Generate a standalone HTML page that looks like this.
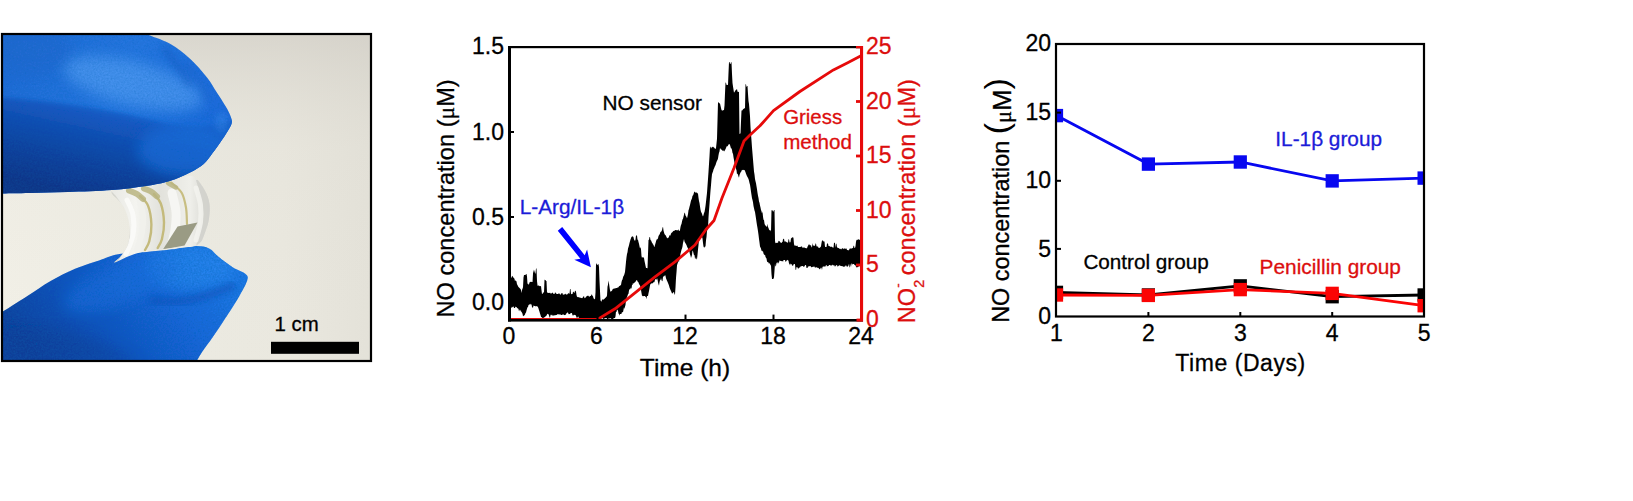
<!DOCTYPE html>
<html><head><meta charset="utf-8"><title>NO sensor figure</title>
<style>
html,body{margin:0;padding:0;background:#fff;}
body{width:1633px;height:501px;overflow:hidden;position:relative;}
svg{position:absolute;left:0;top:0;display:block;}
svg text{font-family:"Liberation Sans", Arial, sans-serif;stroke-width:0.3px;}
svg text[fill="#000"], svg g[fill="#000"] text{stroke:#000;}
svg text[fill="#dc0e0e"], svg g[fill="#dc0e0e"] text{stroke:#dc0e0e;}
svg text[fill="#1c1cd8"], svg g[fill="#1c1cd8"] text{stroke:#1c1cd8;}
</style></head><body>
<svg width="1633" height="501" viewBox="0 0 1633 501">
<rect width="1633" height="501" fill="#fff"/>
<defs>
<clipPath id="pclip"><rect x="2" y="34" width="369" height="327"/></clipPath>
<filter id="pblur" x="-5%" y="-5%" width="110%" height="110%"><feGaussianBlur stdDeviation="0.6"/></filter>
<filter id="sblur" x="-20%" y="-20%" width="140%" height="140%"><feGaussianBlur stdDeviation="7"/></filter>
<filter id="mblur" x="-20%" y="-20%" width="140%" height="140%"><feGaussianBlur stdDeviation="3"/></filter>
<filter id="grain" x="0" y="0" width="100%" height="100%">
<feTurbulence type="fractalNoise" baseFrequency="0.55" numOctaves="2" seed="4" result="n"/>
<feColorMatrix in="n" type="matrix" values="0 0 0 0 0  0 0 0 0 0.12  0 0 0 0 0.45  0.9 0.9 0 0 -0.62"/>
<feComposite in2="SourceGraphic" operator="in"/>
</filter>
<linearGradient id="bgG" x1="0" y1="0" x2="1" y2="0">
<stop offset="0" stop-color="#f2f0e7"/><stop offset="0.45" stop-color="#ecebe2"/><stop offset="0.75" stop-color="#eae8df"/><stop offset="1" stop-color="#e3e1d8"/>
</linearGradient>
<linearGradient id="bgV" x1="0" y1="0" x2="0" y2="1">
<stop offset="0" stop-color="#c8c4bc" stop-opacity="0.55"/><stop offset="0.35" stop-color="#d8d5cc" stop-opacity="0.15"/><stop offset="1" stop-color="#e8e6dd" stop-opacity="0"/>
</linearGradient>
<linearGradient id="upG" gradientUnits="userSpaceOnUse" x1="0" y1="35" x2="230" y2="150">
<stop offset="0" stop-color="#1f6ad4"/><stop offset="0.5" stop-color="#2676e0"/><stop offset="1" stop-color="#1c68da"/>
</linearGradient>
<linearGradient id="upD" gradientUnits="userSpaceOnUse" x1="100" y1="105" x2="80" y2="195">
<stop offset="0" stop-color="#185fcc"/><stop offset="0.3" stop-color="#114fb4"/><stop offset="0.7" stop-color="#0c3e98"/><stop offset="1" stop-color="#0a3486"/>
</linearGradient>
<filter id="cblur" x="-10%" y="-10%" width="120%" height="120%"><feGaussianBlur stdDeviation="2.2"/></filter>
<linearGradient id="loG" gradientUnits="userSpaceOnUse" x1="200" y1="240" x2="40" y2="364">
<stop offset="0" stop-color="#1f78e6"/><stop offset="0.3" stop-color="#1867da"/><stop offset="0.65" stop-color="#1052be"/><stop offset="1" stop-color="#0b409c"/>
</linearGradient>
<linearGradient id="filmG" x1="0" y1="0" x2="1" y2="0">
<stop offset="0" stop-color="#e9e9e4"/><stop offset="0.25" stop-color="#f4f4f0"/><stop offset="0.5" stop-color="#e2e2dc"/><stop offset="0.8" stop-color="#efefea"/><stop offset="1" stop-color="#d5d5cf"/>
</linearGradient>
</defs>
<g id="photo" clip-path="url(#pclip)">
<g filter="url(#pblur)">
<rect x="-5" y="28" width="385" height="342" fill="url(#bgG)"/>
<rect x="-5" y="28" width="385" height="342" fill="url(#bgV)"/>
<path d="M0.0,313.5 C4.5,310.6 18.5,301.8 27.0,296.3 C35.5,290.8 43.0,285.3 51.0,280.7 C59.0,276.1 67.0,272.1 75.0,268.7 C83.0,265.3 91.8,262.8 99.0,260.4 C106.2,258.0 110.0,255.6 118.0,254.2 C126.0,252.8 137.9,252.8 146.7,252.0 C155.5,251.2 162.6,250.6 170.6,249.6 C178.6,248.6 188.2,246.2 194.6,246.0 C201.0,245.8 205.0,246.6 209.0,248.4 C213.0,250.2 214.5,253.6 218.5,256.8 C222.5,260.0 228.6,264.7 233.0,267.5 C237.4,270.3 242.5,271.5 244.9,273.5 C247.3,275.5 248.3,275.9 247.5,279.5 C246.7,283.1 243.2,289.2 240.0,295.0 C236.8,300.8 232.4,307.4 228.0,314.2 C223.6,321.0 218.1,329.4 213.7,335.8 C209.3,342.2 204.9,347.8 201.8,352.5 C198.7,357.2 196.1,362.1 195.0,364.0 L0,364 Z" fill="url(#loG)"/>
<clipPath id="loc"><path d="M0.0,313.5 C4.5,310.6 18.5,301.8 27.0,296.3 C35.5,290.8 43.0,285.3 51.0,280.7 C59.0,276.1 67.0,272.1 75.0,268.7 C83.0,265.3 91.8,262.8 99.0,260.4 C106.2,258.0 110.0,255.6 118.0,254.2 C126.0,252.8 137.9,252.8 146.7,252.0 C155.5,251.2 162.6,250.6 170.6,249.6 C178.6,248.6 188.2,246.2 194.6,246.0 C201.0,245.8 205.0,246.6 209.0,248.4 C213.0,250.2 214.5,253.6 218.5,256.8 C222.5,260.0 228.6,264.7 233.0,267.5 C237.4,270.3 242.5,271.5 244.9,273.5 C247.3,275.5 248.3,275.9 247.5,279.5 C246.7,283.1 243.2,289.2 240.0,295.0 C236.8,300.8 232.4,307.4 228.0,314.2 C223.6,321.0 218.1,329.4 213.7,335.8 C209.3,342.2 204.9,347.8 201.8,352.5 C198.7,357.2 196.1,362.1 195.0,364.0 L0,364 Z"/></clipPath>
<g clip-path="url(#loc)">
<ellipse cx="190" cy="268" rx="45" ry="22" fill="#2a88f0" opacity="0.7" filter="url(#sblur)"/>
<ellipse cx="120" cy="285" rx="60" ry="20" fill="#1c70e0" opacity="0.6" filter="url(#sblur)" transform="rotate(-20 120 285)"/>
<path d="M150,300 C175,305 200,300 235,285" stroke="#0c4cb4" stroke-width="7" fill="none" opacity="0.55" filter="url(#mblur)"/>
<path d="M0,330 C40,320 90,330 140,364 L0,364Z" fill="#093a92" opacity="0.45" filter="url(#sblur)"/>
</g>
<path d="M0.0,313.5 C4.5,310.6 18.5,301.8 27.0,296.3 C35.5,290.8 43.0,285.3 51.0,280.7 C59.0,276.1 67.0,272.1 75.0,268.7 C83.0,265.3 91.8,262.8 99.0,260.4 C106.2,258.0 110.0,255.6 118.0,254.2 C126.0,252.8 137.9,252.8 146.7,252.0 C155.5,251.2 162.6,250.6 170.6,249.6 C178.6,248.6 188.2,246.2 194.6,246.0 C201.0,245.8 205.0,246.6 209.0,248.4 C213.0,250.2 214.5,253.6 218.5,256.8 C222.5,260.0 228.6,264.7 233.0,267.5 C237.4,270.3 242.5,271.5 244.9,273.5 C247.3,275.5 248.3,275.9 247.5,279.5 C246.7,283.1 243.2,289.2 240.0,295.0 C236.8,300.8 232.4,307.4 228.0,314.2 C223.6,321.0 218.1,329.4 213.7,335.8 C209.3,342.2 204.9,347.8 201.8,352.5 C198.7,357.2 196.1,362.1 195.0,364.0 L0,364 Z" fill="#000" filter="url(#grain)" opacity="0.55"/>
<path d="M111.5,192.0 C111.2,195.0 120.0,200.2 123.0,205.6 C126.0,211.0 128.5,218.2 129.4,224.5 C130.3,230.8 129.7,238.2 128.3,243.4 C126.9,248.7 123.3,252.8 121.0,256.0 C118.7,259.2 113.3,262.4 114.5,262.5 C115.7,262.6 123.4,258.2 128.0,256.5 C132.6,254.8 136.2,253.2 142.0,252.0 C147.8,250.8 156.0,249.8 163.0,249.0 C170.0,248.2 178.1,248.3 184.0,247.5 C189.9,246.7 195.1,246.8 198.6,244.4 C202.1,242.0 203.1,237.4 204.8,233.0 C206.5,228.6 208.3,223.4 209.0,218.2 C209.7,212.9 210.1,206.7 209.0,201.5 C207.9,196.3 205.5,191.1 202.7,186.8 C199.9,182.6 196.5,177.4 192.3,176.0 C188.1,174.6 182.8,177.5 177.5,178.5 C172.2,179.5 166.2,180.9 160.5,182.0 C154.8,183.1 149.5,184.4 143.6,185.3 C137.7,186.2 130.3,186.4 125.0,187.5 C119.7,188.6 111.8,189.0 111.5,192.0" fill="url(#filmG)"/>
<clipPath id="fc"><path d="M111.5,192.0 C111.2,195.0 120.0,200.2 123.0,205.6 C126.0,211.0 128.5,218.2 129.4,224.5 C130.3,230.8 129.7,238.2 128.3,243.4 C126.9,248.7 123.3,252.8 121.0,256.0 C118.7,259.2 113.3,262.4 114.5,262.5 C115.7,262.6 123.4,258.2 128.0,256.5 C132.6,254.8 136.2,253.2 142.0,252.0 C147.8,250.8 156.0,249.8 163.0,249.0 C170.0,248.2 178.1,248.3 184.0,247.5 C189.9,246.7 195.1,246.8 198.6,244.4 C202.1,242.0 203.1,237.4 204.8,233.0 C206.5,228.6 208.3,223.4 209.0,218.2 C209.7,212.9 210.1,206.7 209.0,201.5 C207.9,196.3 205.5,191.1 202.7,186.8 C199.9,182.6 196.5,177.4 192.3,176.0 C188.1,174.6 182.8,177.5 177.5,178.5 C172.2,179.5 166.2,180.9 160.5,182.0 C154.8,183.1 149.5,184.4 143.6,185.3 C137.7,186.2 130.3,186.4 125.0,187.5 C119.7,188.6 111.8,189.0 111.5,192.0"/></clipPath>
<g clip-path="url(#fc)">
<path d="M110,190 C125,203 131,224 130,243 L116,264 L106,264 Z" fill="#cdcdc6" opacity="0.75"/>
<path d="M205,180 L212,200 L211,222 L203,240 L196,246 C203,225 204,205 196,180Z" fill="#d2d2cc" opacity="0.9"/>
<path d="M127.0,200.0 C128.0,202.5 132.0,209.2 133.0,215.0 C134.0,220.8 134.2,228.5 133.0,235.0 C131.8,241.5 127.2,250.8 126.0,254.0" fill="none" stroke="#fbfbf8" stroke-width="5" stroke-linecap="round" opacity="0.9"/>
<path d="M139.0,198.0 C139.7,200.8 142.5,209.3 143.0,215.0 C143.5,220.7 143.0,226.2 142.0,232.0 C141.0,237.8 137.8,247.0 137.0,250.0" fill="none" stroke="#f1f1ec" stroke-width="6" stroke-linecap="round" opacity="0.9"/>
<path d="M172.0,193.0 C172.7,196.2 175.5,205.8 176.0,212.0 C176.5,218.2 175.8,224.3 175.0,230.0 C174.2,235.7 171.7,243.3 171.0,246.0" fill="none" stroke="#f7f7f3" stroke-width="9" stroke-linecap="round" opacity="0.95"/>
<path d="M196.0,188.0 C196.8,190.8 199.8,199.3 200.5,205.0 C201.2,210.7 201.2,216.2 200.5,222.0 C199.8,227.8 196.8,237.0 196.0,240.0" fill="none" stroke="#f3f3ef" stroke-width="5" stroke-linecap="round" opacity="0.85"/>
<path d="M140.0,196.0 C141.3,197.6 146.1,200.8 148.0,205.6 C149.9,210.3 151.2,218.6 151.4,224.5 C151.6,230.4 150.4,237.1 149.3,241.3 C148.2,245.6 145.7,248.6 145.0,250.0" fill="none" stroke="#c4ba7c" stroke-width="2.4" stroke-linecap="round" opacity="1"/>
<path d="M129.0,190.5 C130.3,191.1 134.7,192.6 137.0,194.0 C139.3,195.4 142.0,198.2 143.0,199.0" fill="none" stroke="#b9b480" stroke-width="6" stroke-linecap="round" opacity="0.85"/>
<path d="M154.0,194.0 C155.1,195.6 159.1,198.8 160.8,203.5 C162.5,208.2 163.8,216.5 164.0,222.4 C164.2,228.3 163.0,234.9 161.9,239.2 C160.8,243.5 158.4,246.5 157.7,248.0" fill="none" stroke="#c4ba7c" stroke-width="2.4" stroke-linecap="round" opacity="1"/>
<path d="M144.0,188.5 C145.2,189.0 148.8,190.2 151.0,191.5 C153.2,192.8 156.0,195.7 157.0,196.5" fill="none" stroke="#b9b480" stroke-width="6" stroke-linecap="round" opacity="0.85"/>
<path d="M171.3,182.6 C173.1,184.3 179.4,188.8 181.8,193.0 C184.2,197.2 185.1,202.5 186.0,207.7 C186.9,212.9 186.8,221.3 187.0,224.0" fill="none" stroke="#c8be82" stroke-width="2.2" stroke-linecap="round" opacity="1"/>
<path d="M168.0,183.0 C169.3,183.8 174.7,186.8 176.0,187.5" fill="none" stroke="#b9b480" stroke-width="4.5" stroke-linecap="round" opacity="0.85"/>
<path d="M177.6,226.6 L197.5,222.4 L184.5,245.5 L162.9,249.5 Z" fill="#9a9b84"/>
</g>
<path d="M140.0,31.0 C141.0,31.5 141.1,31.9 146.0,34.0 C150.9,36.1 162.3,39.5 169.6,43.6 C176.9,47.7 183.8,53.1 190.0,58.8 C196.2,64.5 202.5,71.8 207.0,77.5 C211.5,83.2 213.9,88.0 217.0,92.8 C220.1,97.6 223.3,102.3 225.6,106.3 C227.9,110.2 229.7,113.7 230.7,116.5 C231.7,119.3 232.3,120.8 231.7,123.3 C231.1,125.8 229.2,128.7 227.3,131.8 C225.4,134.9 223.1,138.3 220.5,142.0 C217.9,145.7 214.8,150.1 212.0,153.8 C209.2,157.5 207.3,160.9 203.6,164.0 C199.9,167.1 195.7,169.7 190.0,172.5 C184.3,175.3 176.9,178.8 169.6,181.0 C162.3,183.2 155.6,184.5 146.0,186.0 C136.4,187.5 125.0,189.0 112.0,190.0 C99.0,191.0 81.5,191.5 67.8,192.0 C54.1,192.5 41.3,192.8 30.0,193.0 C18.7,193.2 5.0,193.4 0.0,193.5 L0,30 Z" fill="url(#upG)"/>
<clipPath id="upc"><path d="M140.0,31.0 C141.0,31.5 141.1,31.9 146.0,34.0 C150.9,36.1 162.3,39.5 169.6,43.6 C176.9,47.7 183.8,53.1 190.0,58.8 C196.2,64.5 202.5,71.8 207.0,77.5 C211.5,83.2 213.9,88.0 217.0,92.8 C220.1,97.6 223.3,102.3 225.6,106.3 C227.9,110.2 229.7,113.7 230.7,116.5 C231.7,119.3 232.3,120.8 231.7,123.3 C231.1,125.8 229.2,128.7 227.3,131.8 C225.4,134.9 223.1,138.3 220.5,142.0 C217.9,145.7 214.8,150.1 212.0,153.8 C209.2,157.5 207.3,160.9 203.6,164.0 C199.9,167.1 195.7,169.7 190.0,172.5 C184.3,175.3 176.9,178.8 169.6,181.0 C162.3,183.2 155.6,184.5 146.0,186.0 C136.4,187.5 125.0,189.0 112.0,190.0 C99.0,191.0 81.5,191.5 67.8,192.0 C54.1,192.5 41.3,192.8 30.0,193.0 C18.7,193.2 5.0,193.4 0.0,193.5 L0,30 Z"/></clipPath>
<g clip-path="url(#upc)">
<path d="M-5,97 C50,101 102,108 150,120 C175,126 205,131 235,119 L245,205 L-5,205 Z" fill="url(#upD)" filter="url(#cblur)"/>
<ellipse cx="185" cy="150" rx="48" ry="26" fill="#1f6edc" opacity="0.7" filter="url(#sblur)"/>
<ellipse cx="135" cy="78" rx="72" ry="22" fill="#56a0f4" opacity="0.65" filter="url(#sblur)" transform="rotate(14 112 72)"/>
<ellipse cx="30" cy="50" rx="40" ry="25" fill="#2068cc" opacity="0.5" filter="url(#sblur)"/>
<path d="M163,47 C172,58 182,70 190,86" stroke="#1554b8" stroke-width="5" fill="none" opacity="0.45" filter="url(#mblur)"/>
<path d="M185,62 C195,75 203,88 208,100" stroke="#1554b8" stroke-width="4" fill="none" opacity="0.35" filter="url(#mblur)"/>
<ellipse cx="222" cy="122" rx="7" ry="10" fill="#3a88ea" opacity="0.5" filter="url(#mblur)"/>
</g>
<path d="M140.0,31.0 C141.0,31.5 141.1,31.9 146.0,34.0 C150.9,36.1 162.3,39.5 169.6,43.6 C176.9,47.7 183.8,53.1 190.0,58.8 C196.2,64.5 202.5,71.8 207.0,77.5 C211.5,83.2 213.9,88.0 217.0,92.8 C220.1,97.6 223.3,102.3 225.6,106.3 C227.9,110.2 229.7,113.7 230.7,116.5 C231.7,119.3 232.3,120.8 231.7,123.3 C231.1,125.8 229.2,128.7 227.3,131.8 C225.4,134.9 223.1,138.3 220.5,142.0 C217.9,145.7 214.8,150.1 212.0,153.8 C209.2,157.5 207.3,160.9 203.6,164.0 C199.9,167.1 195.7,169.7 190.0,172.5 C184.3,175.3 176.9,178.8 169.6,181.0 C162.3,183.2 155.6,184.5 146.0,186.0 C136.4,187.5 125.0,189.0 112.0,190.0 C99.0,191.0 81.5,191.5 67.8,192.0 C54.1,192.5 41.3,192.8 30.0,193.0 C18.7,193.2 5.0,193.4 0.0,193.5 L0,30 Z" fill="#000" filter="url(#grain)" opacity="0.35"/>
</g>
<rect x="271" y="341.8" width="88" height="12" fill="#000"/>
<text x="274.6" y="330.5" font-size="20.4" fill="#000">1 cm</text>
</g>
<rect x="2" y="34" width="369" height="327" fill="none" stroke="#000" stroke-width="2.2"/>
<g id="chart2">
<path d="M510.0,276.2 L510.5,276.4 L511.0,276.7 L511.5,278.2 L512.0,275.8 L512.5,276.3 L513.0,276.8 L513.5,277.7 L514.0,278.2 L514.5,278.8 L515.0,281.3 L515.5,280.2 L516.0,280.8 L516.5,281.5 L517.0,284.3 L517.5,285.0 L518.0,286.3 L518.5,287.0 L519.0,287.6 L519.5,287.9 L520.0,288.5 L520.5,289.1 L521.0,290.1 L521.5,293.0 L522.0,289.9 L522.5,288.8 L523.0,287.2 L523.5,277.6 L524.0,275.1 L524.5,275.1 L525.0,275.1 L525.5,274.9 L526.0,274.0 L526.5,274.0 L527.0,276.6 L527.5,284.1 L528.0,283.6 L528.5,284.7 L529.0,284.2 L529.5,282.5 L530.0,282.1 L530.5,281.7 L531.0,281.9 L531.5,281.7 L532.0,282.1 L532.5,282.1 L533.0,273.7 L533.5,269.4 L534.0,272.8 L534.5,269.7 L535.0,273.5 L535.5,273.5 L536.0,268.4 L536.5,268.4 L537.0,281.1 L537.5,285.2 L538.0,286.3 L538.5,285.3 L539.0,285.5 L539.5,286.3 L540.0,286.1 L540.5,286.2 L541.0,286.1 L541.5,290.2 L542.0,293.9 L542.5,294.0 L543.0,292.4 L543.5,292.4 L544.0,292.4 L544.5,279.6 L545.0,280.1 L545.5,280.0 L546.0,280.9 L546.5,281.0 L547.0,292.3 L547.5,292.8 L548.0,292.8 L548.5,292.9 L549.0,293.1 L549.5,293.1 L550.0,292.5 L550.5,293.5 L551.0,293.5 L551.5,293.5 L552.0,292.8 L552.5,292.8 L553.0,292.8 L553.5,293.9 L554.0,294.0 L554.5,294.0 L555.0,292.6 L555.5,292.6 L556.0,293.6 L556.5,293.7 L557.0,294.1 L557.5,294.1 L558.0,294.1 L558.5,293.4 L559.0,293.5 L559.5,293.5 L560.0,294.6 L560.5,294.7 L561.0,294.1 L561.5,293.2 L562.0,292.9 L562.5,293.2 L563.0,294.9 L563.5,294.4 L564.0,294.5 L564.5,294.5 L565.0,293.8 L565.5,293.8 L566.0,294.5 L566.5,294.5 L567.0,294.4 L567.5,294.3 L568.0,293.4 L568.5,293.3 L569.0,293.3 L569.5,293.9 L570.0,289.0 L570.5,288.9 L571.0,293.8 L571.5,294.2 L572.0,294.1 L572.5,294.1 L573.0,291.8 L573.5,291.7 L574.0,292.5 L574.5,293.1 L575.0,290.4 L575.5,291.0 L576.0,291.6 L576.5,295.0 L577.0,296.7 L577.5,297.0 L578.0,297.2 L578.5,297.1 L579.0,297.4 L579.5,297.6 L580.0,297.4 L580.5,297.7 L581.0,297.9 L581.5,298.1 L582.0,298.3 L582.5,298.1 L583.0,296.9 L583.5,296.5 L584.0,296.1 L584.5,298.2 L585.0,297.9 L585.5,297.5 L586.0,297.2 L586.5,296.2 L587.0,296.1 L587.5,295.7 L588.0,295.7 L588.5,295.7 L589.0,296.7 L589.5,296.7 L590.0,295.9 L590.5,295.9 L591.0,295.8 L591.5,294.5 L592.0,294.6 L592.5,295.9 L593.0,296.3 L593.5,298.3 L594.0,298.7 L594.5,299.1 L595.0,299.4 L595.5,292.6 L596.0,263.6 L596.5,263.6 L597.0,264.9 L597.5,264.9 L598.0,263.9 L598.5,264.3 L599.0,266.9 L599.5,280.4 L600.0,291.1 L600.5,300.9 L601.0,300.6 L601.5,302.0 L602.0,299.7 L602.5,299.4 L603.0,299.2 L603.5,299.8 L604.0,299.3 L604.5,298.7 L605.0,298.2 L605.5,297.7 L606.0,297.3 L606.5,296.8 L607.0,295.4 L607.5,286.7 L608.0,284.7 L608.5,280.6 L609.0,283.4 L609.5,287.1 L610.0,290.2 L610.5,291.8 L611.0,291.5 L611.5,291.1 L612.0,290.8 L612.5,289.6 L613.0,289.1 L613.5,288.7 L614.0,288.4 L614.5,288.5 L615.0,288.6 L615.5,288.2 L616.0,287.9 L616.5,287.9 L617.0,287.9 L617.5,287.5 L618.0,287.5 L618.5,287.2 L619.0,286.3 L619.5,286.0 L620.0,285.7 L620.5,285.2 L621.0,284.9 L621.5,282.0 L622.0,280.3 L622.5,279.4 L623.0,277.6 L623.5,275.9 L624.0,275.5 L624.5,273.7 L625.0,272.0 L625.5,266.9 L626.0,261.7 L626.5,257.2 L627.0,253.9 L627.5,252.2 L628.0,248.6 L628.5,246.9 L629.0,245.2 L629.5,242.9 L630.0,241.2 L630.5,239.5 L631.0,238.2 L631.5,236.5 L632.0,237.2 L632.5,235.9 L633.0,236.6 L633.5,237.3 L634.0,239.6 L634.5,240.3 L635.0,240.9 L635.5,239.6 L636.0,235.5 L636.5,235.5 L637.0,235.5 L637.5,239.8 L638.0,239.8 L638.5,241.9 L639.0,243.8 L639.5,246.2 L640.0,248.4 L640.5,247.1 L641.0,249.2 L641.5,256.0 L642.0,258.1 L642.5,257.3 L643.0,257.1 L643.5,257.6 L644.0,258.1 L644.5,260.9 L645.0,263.2 L645.5,265.8 L646.0,268.1 L646.5,268.1 L647.0,268.0 L647.5,268.6 L648.0,254.1 L648.5,240.1 L649.0,239.7 L649.5,237.0 L650.0,237.0 L650.5,240.3 L651.0,240.3 L651.5,241.5 L652.0,242.7 L652.5,243.2 L653.0,244.5 L653.5,244.7 L654.0,246.6 L654.5,246.9 L655.0,244.9 L655.5,243.3 L656.0,241.5 L656.5,239.8 L657.0,239.3 L657.5,239.2 L658.0,238.3 L658.5,236.1 L659.0,235.2 L659.5,234.5 L660.0,233.6 L660.5,231.7 L661.0,232.1 L661.5,231.1 L662.0,230.2 L662.5,227.8 L663.0,226.8 L663.5,230.6 L664.0,232.4 L664.5,234.1 L665.0,234.7 L665.5,235.2 L666.0,235.7 L666.5,237.2 L667.0,237.7 L667.5,238.2 L668.0,238.3 L668.5,237.6 L669.0,236.8 L669.5,235.0 L670.0,235.7 L670.5,235.3 L671.0,233.5 L671.5,233.1 L672.0,232.3 L672.5,232.2 L673.0,231.2 L673.5,231.0 L674.0,230.8 L674.5,230.7 L675.0,230.3 L675.5,230.1 L676.0,230.0 L676.5,230.3 L677.0,230.2 L677.5,230.0 L678.0,230.8 L678.5,229.0 L679.0,231.1 L679.5,231.1 L680.0,230.1 L680.5,227.0 L681.0,225.0 L681.5,224.1 L682.0,221.6 L682.5,219.6 L683.0,218.8 L683.5,216.8 L684.0,214.8 L684.5,212.5 L685.0,213.2 L685.5,215.6 L686.0,216.2 L686.5,216.9 L687.0,218.5 L687.5,216.2 L688.0,214.0 L688.5,210.2 L689.0,209.0 L689.5,206.7 L690.0,205.0 L690.5,202.7 L691.0,200.6 L691.5,199.4 L692.0,198.3 L692.5,195.8 L693.0,195.4 L693.5,194.3 L694.0,192.6 L694.5,191.5 L695.0,192.1 L695.5,192.6 L696.0,193.1 L696.5,192.3 L697.0,192.8 L697.5,193.3 L698.0,193.8 L698.5,197.7 L699.0,201.0 L699.5,203.0 L700.0,206.4 L700.5,209.7 L701.0,211.8 L701.5,212.8 L702.0,213.8 L702.5,215.4 L703.0,216.4 L703.5,215.1 L704.0,213.1 L704.5,211.9 L705.0,209.3 L705.5,205.9 L706.0,201.7 L706.5,197.2 L707.0,192.8 L707.5,185.8 L708.0,179.1 L708.5,171.7 L709.0,163.9 L709.5,156.3 L710.0,146.8 L710.5,146.7 L711.0,148.7 L711.5,147.4 L712.0,147.2 L712.5,147.0 L713.0,146.6 L713.5,147.2 L714.0,147.5 L714.5,147.9 L715.0,148.8 L715.5,149.1 L716.0,148.0 L716.5,143.4 L717.0,138.8 L717.5,120.8 L718.0,102.3 L718.5,102.3 L719.0,103.2 L719.5,103.2 L720.0,103.4 L720.5,105.8 L721.0,108.1 L721.5,109.9 L722.0,110.6 L722.5,110.4 L723.0,110.4 L723.5,109.9 L724.0,109.9 L724.5,105.6 L725.0,93.3 L725.5,82.5 L726.0,82.7 L726.5,84.9 L727.0,84.7 L727.5,84.9 L728.0,85.1 L728.5,73.0 L729.0,62.0 L729.5,62.0 L730.0,64.1 L730.5,64.1 L731.0,62.2 L731.5,62.2 L732.0,74.0 L732.5,83.1 L733.0,86.4 L733.5,89.6 L734.0,92.7 L734.5,92.0 L735.0,91.3 L735.5,90.3 L736.0,90.0 L736.5,89.4 L737.0,89.1 L737.5,91.4 L738.0,91.9 L738.5,91.8 L739.0,92.3 L739.5,134.3 L740.0,133.6 L740.5,133.6 L741.0,121.6 L741.5,110.6 L742.0,110.5 L742.5,110.3 L743.0,109.3 L743.5,109.1 L744.0,108.4 L744.5,108.3 L745.0,108.2 L745.5,84.3 L746.0,84.3 L746.5,87.3 L747.0,86.0 L747.5,86.0 L748.0,94.1 L748.5,101.1 L749.0,104.1 L749.5,110.1 L750.0,116.3 L750.5,126.9 L751.0,133.9 L751.5,140.5 L752.0,147.5 L752.5,153.5 L753.0,159.6 L753.5,165.5 L754.0,171.5 L754.5,174.5 L755.0,178.9 L755.5,181.3 L756.0,183.3 L756.5,186.3 L757.0,189.3 L757.5,192.7 L758.0,195.7 L758.5,197.9 L759.0,201.6 L759.5,202.7 L760.0,205.4 L760.5,207.6 L761.0,209.9 L761.5,211.2 L762.0,213.4 L762.5,211.4 L763.0,216.8 L763.5,219.7 L764.0,219.9 L764.5,223.5 L765.0,225.1 L765.5,225.6 L766.0,226.1 L766.5,226.6 L767.0,227.1 L767.5,223.7 L768.0,227.0 L768.5,227.9 L769.0,229.6 L769.5,230.5 L770.0,229.7 L770.5,230.6 L771.0,231.4 L771.5,210.2 L772.0,210.2 L772.5,210.2 L773.0,211.5 L773.5,211.5 L774.0,209.9 L774.5,209.9 L775.0,240.9 L775.5,243.2 L776.0,243.1 L776.5,243.1 L777.0,242.5 L777.5,242.8 L778.0,242.9 L778.5,240.8 L779.0,240.9 L779.5,240.9 L780.0,242.3 L780.5,242.3 L781.0,242.9 L781.5,242.9 L782.0,241.9 L782.5,242.0 L783.0,239.3 L783.5,238.9 L784.0,238.4 L784.5,241.7 L785.0,241.3 L785.5,241.4 L786.0,241.8 L786.5,242.0 L787.0,242.4 L787.5,242.5 L788.0,242.7 L788.5,239.2 L789.0,239.3 L789.5,242.2 L790.0,242.4 L790.5,242.1 L791.0,238.2 L791.5,238.2 L792.0,237.5 L792.5,237.5 L793.0,237.0 L793.5,238.2 L794.0,244.0 L794.5,246.1 L795.0,245.1 L795.5,245.7 L796.0,245.9 L796.5,246.1 L797.0,245.5 L797.5,245.7 L798.0,246.9 L798.5,247.1 L799.0,247.1 L799.5,246.9 L800.0,246.9 L800.5,246.9 L801.0,246.5 L801.5,246.5 L802.0,246.5 L802.5,247.7 L803.0,247.7 L803.5,247.5 L804.0,247.5 L804.5,247.5 L805.0,247.9 L805.5,247.9 L806.0,248.2 L806.5,248.2 L807.0,248.2 L807.5,246.8 L808.0,245.7 L808.5,245.0 L809.0,244.1 L809.5,244.8 L810.0,245.6 L810.5,245.2 L811.0,245.3 L811.5,247.3 L812.0,247.3 L812.5,243.0 L813.0,245.4 L813.5,245.5 L814.0,245.7 L814.5,245.8 L815.0,245.8 L815.5,243.4 L816.0,243.4 L816.5,246.3 L817.0,246.4 L817.5,246.4 L818.0,246.5 L818.5,247.8 L819.0,247.9 L819.5,247.9 L820.0,247.2 L820.5,247.3 L821.0,246.3 L821.5,243.0 L822.0,240.5 L822.5,240.5 L823.0,240.5 L823.5,241.6 L824.0,241.6 L824.5,241.6 L825.0,246.8 L825.5,247.1 L826.0,247.1 L826.5,247.0 L827.0,243.6 L827.5,243.5 L828.0,243.5 L828.5,245.9 L829.0,246.0 L829.5,246.0 L830.0,246.7 L830.5,246.8 L831.0,246.8 L831.5,246.7 L832.0,246.8 L832.5,247.5 L833.0,247.6 L833.5,247.8 L834.0,242.7 L834.5,242.8 L835.0,242.9 L835.5,247.8 L836.0,243.7 L836.5,243.8 L837.0,247.4 L837.5,247.6 L838.0,248.0 L838.5,248.1 L839.0,248.2 L839.5,248.9 L840.0,248.6 L840.5,249.1 L841.0,249.2 L841.5,249.2 L842.0,248.3 L842.5,248.3 L843.0,248.4 L843.5,249.3 L844.0,248.3 L844.5,248.6 L845.0,248.7 L845.5,248.7 L846.0,248.5 L846.5,248.5 L847.0,250.0 L847.5,249.9 L848.0,250.2 L848.5,250.2 L849.0,250.3 L849.5,248.8 L850.0,248.6 L850.5,248.5 L851.0,248.6 L851.5,248.6 L852.0,248.5 L852.5,248.1 L853.0,248.1 L853.5,245.7 L854.0,245.7 L854.5,248.0 L855.0,248.0 L855.5,246.2 L856.0,241.7 L856.5,239.9 L857.0,239.8 L857.5,240.1 L858.0,239.3 L858.5,239.2 L859.0,239.7 L859.5,239.7 L860.0,239.7 L860.0,264.5 L859.5,264.7 L859.0,264.9 L858.5,266.8 L858.0,267.0 L857.5,267.2 L857.0,267.3 L856.5,267.6 L856.0,266.8 L855.5,265.6 L855.0,265.0 L854.5,265.0 L854.0,264.1 L853.5,264.0 L853.0,264.0 L852.5,264.7 L852.0,263.6 L851.5,263.6 L851.0,266.9 L850.5,263.8 L850.0,267.3 L849.5,267.2 L849.0,263.5 L848.5,265.5 L848.0,266.0 L847.5,266.4 L847.0,267.3 L846.5,265.7 L846.0,265.6 L845.5,265.5 L845.0,266.7 L844.5,266.6 L844.0,266.5 L843.5,266.9 L843.0,266.3 L842.5,266.3 L842.0,266.3 L841.5,265.9 L841.0,266.1 L840.5,266.1 L840.0,265.3 L839.5,265.3 L839.0,265.8 L838.5,265.8 L838.0,266.5 L837.5,266.5 L837.0,264.9 L836.5,264.9 L836.0,265.7 L835.5,265.7 L835.0,267.0 L834.5,265.4 L834.0,265.3 L833.5,265.3 L833.0,265.6 L832.5,264.8 L832.0,264.8 L831.5,265.7 L831.0,265.6 L830.5,265.6 L830.0,265.0 L829.5,265.0 L829.0,265.0 L828.5,266.0 L828.0,266.0 L827.5,266.0 L827.0,266.7 L826.5,264.9 L826.0,264.9 L825.5,266.4 L825.0,266.4 L824.5,266.4 L824.0,266.6 L823.5,266.6 L823.0,266.6 L822.5,267.1 L822.0,270.0 L821.5,267.9 L821.0,267.5 L820.5,268.3 L820.0,269.4 L819.5,269.1 L819.0,268.7 L818.5,267.7 L818.0,268.1 L817.5,267.7 L817.0,267.5 L816.5,267.1 L816.0,267.7 L815.5,267.4 L815.0,267.3 L814.5,267.2 L814.0,265.7 L813.5,267.0 L813.0,266.9 L812.5,266.8 L812.0,267.3 L811.5,267.2 L811.0,267.1 L810.5,266.0 L810.0,265.9 L809.5,266.3 L809.0,266.3 L808.5,266.4 L808.0,266.5 L807.5,268.0 L807.0,268.0 L806.5,268.0 L806.0,265.1 L805.5,265.1 L805.0,265.2 L804.5,266.5 L804.0,266.5 L803.5,267.1 L803.0,265.9 L802.5,265.9 L802.0,265.9 L801.5,266.2 L801.0,266.3 L800.5,266.4 L800.0,267.4 L799.5,267.5 L799.0,267.7 L798.5,268.6 L798.0,268.8 L797.5,267.2 L797.0,267.3 L796.5,266.9 L796.0,270.3 L795.5,269.6 L795.0,264.2 L794.5,264.1 L794.0,264.0 L793.5,264.6 L793.0,265.9 L792.5,265.6 L792.0,265.6 L791.5,264.0 L791.0,263.9 L790.5,263.4 L790.0,265.5 L789.5,264.0 L789.0,263.4 L788.5,260.7 L788.0,260.2 L787.5,259.7 L787.0,260.4 L786.5,260.5 L786.0,261.8 L785.5,261.8 L785.0,259.9 L784.5,260.0 L784.0,260.0 L783.5,260.0 L783.0,261.9 L782.5,260.9 L782.0,261.0 L781.5,261.2 L781.0,261.0 L780.5,261.0 L780.0,260.5 L779.5,260.5 L779.0,262.4 L778.5,262.5 L778.0,264.0 L777.5,262.2 L777.0,262.6 L776.5,263.1 L776.0,266.1 L775.5,266.5 L775.0,263.7 L774.5,270.5 L774.0,277.3 L773.5,278.7 L773.0,279.1 L772.5,279.1 L772.0,279.1 L771.5,274.2 L771.0,265.7 L770.5,264.9 L770.0,263.9 L769.5,262.9 L769.0,263.7 L768.5,262.7 L768.0,261.7 L767.5,262.2 L767.0,261.5 L766.5,258.4 L766.0,257.7 L765.5,256.9 L765.0,254.5 L764.5,255.2 L764.0,254.5 L763.5,253.5 L763.0,251.3 L762.5,251.6 L762.0,250.6 L761.5,251.1 L761.0,248.6 L760.5,247.6 L760.0,246.6 L759.5,242.5 L759.0,239.0 L758.5,234.7 L758.0,231.3 L757.5,228.0 L757.0,225.3 L756.5,222.0 L756.0,218.4 L755.5,215.3 L755.0,212.0 L754.5,210.6 L754.0,208.3 L753.5,206.0 L753.0,202.3 L752.5,200.0 L752.0,198.3 L751.5,195.1 L751.0,191.8 L750.5,188.0 L750.0,184.8 L749.5,183.0 L749.0,180.7 L748.5,178.9 L748.0,178.0 L747.5,176.9 L747.0,176.2 L746.5,175.0 L746.0,173.8 L745.5,172.2 L745.0,171.1 L744.5,170.1 L744.0,170.0 L743.5,169.8 L743.0,170.2 L742.5,170.0 L742.0,169.8 L741.5,170.9 L741.0,172.1 L740.5,172.6 L740.0,173.8 L739.5,175.0 L739.0,177.7 L738.5,176.5 L738.0,174.7 L737.5,173.6 L737.0,174.3 L736.5,170.2 L736.0,169.1 L735.5,166.2 L735.0,164.3 L734.5,162.8 L734.0,159.9 L733.5,157.2 L733.0,153.7 L732.5,152.9 L732.0,149.9 L731.5,148.2 L731.0,148.4 L730.5,146.7 L730.0,145.1 L729.5,143.9 L729.0,144.3 L728.5,144.6 L728.0,145.5 L727.5,146.4 L727.0,145.9 L726.5,146.7 L726.0,148.1 L725.5,149.2 L725.0,150.1 L724.5,150.9 L724.0,151.6 L723.5,150.3 L723.0,151.0 L722.5,150.4 L722.0,150.3 L721.5,149.6 L721.0,149.5 L720.5,148.8 L720.0,148.1 L719.5,151.6 L719.0,152.8 L718.5,155.3 L718.0,158.5 L717.5,159.9 L717.0,160.7 L716.5,162.1 L716.0,163.4 L715.5,165.2 L715.0,165.9 L714.5,167.2 L714.0,168.5 L713.5,169.5 L713.0,171.5 L712.5,172.8 L712.0,174.3 L711.5,179.0 L711.0,185.2 L710.5,190.7 L710.0,197.2 L709.5,204.2 L709.0,210.6 L708.5,217.6 L708.0,227.8 L707.5,229.8 L707.0,230.7 L706.5,237.0 L706.0,240.2 L705.5,246.5 L705.0,246.5 L704.5,247.6 L704.0,247.6 L703.5,246.6 L703.0,242.9 L702.5,238.6 L702.0,236.8 L701.5,237.5 L701.0,237.2 L700.5,237.2 L700.0,237.9 L699.5,238.8 L699.0,239.5 L698.5,245.0 L698.0,249.5 L697.5,254.7 L697.0,259.2 L696.5,259.2 L696.0,257.0 L695.5,258.8 L695.0,258.8 L694.5,254.9 L694.0,255.3 L693.5,253.3 L693.0,251.3 L692.5,250.6 L692.0,254.9 L691.5,256.4 L691.0,257.9 L690.5,255.7 L690.0,254.4 L689.5,252.0 L689.0,250.6 L688.5,249.3 L688.0,248.6 L687.5,247.6 L687.0,246.6 L686.5,245.0 L686.0,244.2 L685.5,243.2 L685.0,242.6 L684.5,241.6 L684.0,239.0 L683.5,241.0 L683.0,243.0 L682.5,246.5 L682.0,248.5 L681.5,249.8 L681.0,251.8 L680.5,253.8 L680.0,257.1 L679.5,257.1 L679.0,262.4 L678.5,260.8 L678.0,262.3 L677.5,263.7 L677.0,265.2 L676.5,272.2 L676.0,278.1 L675.5,287.5 L675.0,294.5 L674.5,294.5 L674.0,292.1 L673.5,292.1 L673.0,293.3 L672.5,293.3 L672.0,293.6 L671.5,292.3 L671.0,291.1 L670.5,289.9 L670.0,288.7 L669.5,287.4 L669.0,285.4 L668.5,284.2 L668.0,282.9 L667.5,281.7 L667.0,280.8 L666.5,279.5 L666.0,278.2 L665.5,276.1 L665.0,274.7 L664.5,276.3 L664.0,276.1 L663.5,276.6 L663.0,276.9 L662.5,281.0 L662.0,281.2 L661.5,279.9 L661.0,278.0 L660.5,280.0 L660.0,280.3 L659.5,282.3 L659.0,285.8 L658.5,284.3 L658.0,282.3 L657.5,279.6 L657.0,278.1 L656.5,280.0 L656.0,278.9 L655.5,279.3 L655.0,279.8 L654.5,281.8 L654.0,282.4 L653.5,282.1 L653.0,283.0 L652.5,283.4 L652.0,283.0 L651.5,283.4 L651.0,283.8 L650.5,284.1 L650.0,285.4 L649.5,288.2 L649.0,290.9 L648.5,293.2 L648.0,295.9 L647.5,295.9 L647.0,295.9 L646.5,299.2 L646.0,296.7 L645.5,296.9 L645.0,295.9 L644.5,295.9 L644.0,295.9 L643.5,295.9 L643.0,296.5 L642.5,295.7 L642.0,295.7 L641.5,292.9 L641.0,289.9 L640.5,287.2 L640.0,285.5 L639.5,284.7 L639.0,284.0 L638.5,282.6 L638.0,281.8 L637.5,281.6 L637.0,280.0 L636.5,280.3 L636.0,280.7 L635.5,281.8 L635.0,282.2 L634.5,282.6 L634.0,283.3 L633.5,283.7 L633.0,282.7 L632.5,285.1 L632.0,285.1 L631.5,288.9 L631.0,287.4 L630.5,288.4 L630.0,289.4 L629.5,289.0 L629.0,290.6 L628.5,293.7 L628.0,294.3 L627.5,295.8 L627.0,297.3 L626.5,297.9 L626.0,299.4 L625.5,304.9 L625.0,306.4 L624.5,308.9 L624.0,307.3 L623.5,309.7 L623.0,312.2 L622.5,312.2 L622.0,312.1 L621.5,313.7 L621.0,314.1 L620.5,314.1 L620.0,314.1 L619.5,315.8 L619.0,314.0 L618.5,313.4 L618.0,310.8 L617.5,310.1 L617.0,309.5 L616.5,312.3 L616.0,311.6 L615.5,316.6 L615.0,317.9 L614.5,317.9 L614.0,318.2 L613.5,318.2 L613.0,319.5 L612.5,319.0 L612.0,319.0 L611.5,319.5 L611.0,318.2 L610.5,318.2 L610.0,318.2 L609.5,318.6 L609.0,318.6 L608.5,318.6 L608.0,319.0 L607.5,319.0 L607.0,319.0 L606.5,318.0 L606.0,318.0 L605.5,318.3 L605.0,318.3 L604.5,318.3 L604.0,319.5 L603.5,319.5 L603.0,318.2 L602.5,318.2 L602.0,318.3 L601.5,318.3 L601.0,319.0 L600.5,319.0 L600.0,319.0 L599.5,318.8 L599.0,318.8 L598.5,318.2 L598.0,318.2 L597.5,319.5 L597.0,319.5 L596.5,318.9 L596.0,318.9 L595.5,318.6 L595.0,318.6 L594.5,318.6 L594.0,319.5 L593.5,319.5 L593.0,318.0 L592.5,318.0 L592.0,318.0 L591.5,319.2 L591.0,319.5 L590.5,319.3 L590.0,319.3 L589.5,318.6 L589.0,318.6 L588.5,318.6 L588.0,319.5 L587.5,319.5 L587.0,319.5 L586.5,319.5 L586.0,319.5 L585.5,318.3 L585.0,318.3 L584.5,318.3 L584.0,318.8 L583.5,318.8 L583.0,319.0 L582.5,318.9 L582.0,318.8 L581.5,319.1 L581.0,318.9 L580.5,318.8 L580.0,319.5 L579.5,319.5 L579.0,319.5 L578.5,316.7 L578.0,316.6 L577.5,317.8 L577.0,317.6 L576.5,317.7 L576.0,315.6 L575.5,315.2 L575.0,314.9 L574.5,314.9 L574.0,314.5 L573.5,315.5 L573.0,315.2 L572.5,315.4 L572.0,313.3 L571.5,313.1 L571.0,313.0 L570.5,313.3 L570.0,313.9 L569.5,313.9 L569.0,314.3 L568.5,314.1 L568.0,312.5 L567.5,312.6 L567.0,312.8 L566.5,313.3 L566.0,314.5 L565.5,314.7 L565.0,314.9 L564.5,315.1 L564.0,315.2 L563.5,314.3 L563.0,314.4 L562.5,314.5 L562.0,314.9 L561.5,314.9 L561.0,315.1 L560.5,314.4 L560.0,314.3 L559.5,314.3 L559.0,315.0 L558.5,313.9 L558.0,314.2 L557.5,314.1 L557.0,314.9 L556.5,314.9 L556.0,314.8 L555.5,315.3 L555.0,315.2 L554.5,315.3 L554.0,315.5 L553.5,315.6 L553.0,315.6 L552.5,315.7 L552.0,314.4 L551.5,315.6 L551.0,314.6 L550.5,315.3 L550.0,317.7 L549.5,317.3 L549.0,315.6 L548.5,314.3 L548.0,313.9 L547.5,313.7 L547.0,314.6 L546.5,315.4 L546.0,316.2 L545.5,316.2 L545.0,317.0 L544.5,317.5 L544.0,317.1 L543.5,318.4 L543.0,318.4 L542.5,318.4 L542.0,317.3 L541.5,317.3 L541.0,316.7 L540.5,314.9 L540.0,313.4 L539.5,311.7 L539.0,310.3 L538.5,308.5 L538.0,307.2 L537.5,306.5 L537.0,306.2 L536.5,306.0 L536.0,306.5 L535.5,306.3 L535.0,306.0 L534.5,306.0 L534.0,305.8 L533.5,305.5 L533.0,307.7 L532.5,307.5 L532.0,307.2 L531.5,303.8 L531.0,305.4 L530.5,303.7 L530.0,304.1 L529.5,304.4 L529.0,304.8 L528.5,305.1 L528.0,306.9 L527.5,307.2 L527.0,308.8 L526.5,310.5 L526.0,312.5 L525.5,313.0 L525.0,314.5 L524.5,315.2 L524.0,315.5 L523.5,315.9 L523.0,316.3 L522.5,313.8 L522.0,312.8 L521.5,311.8 L521.0,311.6 L520.5,310.6 L520.0,309.6 L519.5,310.2 L519.0,311.4 L518.5,308.9 L518.0,308.6 L517.5,308.2 L517.0,308.1 L516.5,306.9 L516.0,306.9 L515.5,306.5 L515.0,307.9 L514.5,308.0 L514.0,308.1 L513.5,306.4 L513.0,306.5 L512.5,307.2 L512.0,307.3 L511.5,308.2 L511.0,306.6 L510.5,306.6 L510.0,306.6Z" fill="#000"/>
<polyline points="509.5,319.4 597.5,319.4 615.0,308.8 635.0,292.9 655.0,276.9 675.0,261.9 695.0,245.0 706.0,229.5 714.0,220.5 722.0,198.0 734.0,168.0 744.0,141.0 750.0,135.0 760.0,125.8 773.5,110.6 799.9,91.5 833.4,69.9 847.7,62.7 861.5,55.5" fill="none" stroke="#e60a0a" stroke-width="2.8" stroke-linejoin="round"/>
<rect x="508" y="46" width="3" height="275.5" fill="#000"/>
<rect x="508" y="46" width="352" height="2.2" fill="#000"/>
<rect x="508" y="319" width="355" height="2.6" fill="#000"/>
<rect x="860" y="46" width="3.1" height="275.6" fill="#e60a0a"/>
<rect x="856.5" y="318.6" width="4" height="3" fill="#e60a0a"/>
<rect x="511" y="131" width="3" height="2" fill="#000"/>
<rect x="511" y="216" width="3" height="2" fill="#000"/>
<rect x="511" y="301" width="3" height="2" fill="#000"/>
<rect x="596.5" y="314.6" width="2" height="5" fill="#000"/>
<rect x="684.5" y="314.6" width="2" height="5" fill="#000"/>
<rect x="772.5" y="314.6" width="2" height="5" fill="#000"/>
<rect x="856" y="263.6" width="4.5" height="2.8" fill="#e60a0a"/>
<rect x="856" y="209.1" width="4.5" height="2.8" fill="#e60a0a"/>
<rect x="856" y="154.6" width="4.5" height="2.8" fill="#e60a0a"/>
<rect x="856" y="100.1" width="4.5" height="2.8" fill="#e60a0a"/>
<rect x="856" y="46.0" width="4.5" height="2.4" fill="#e60a0a"/>
<g font-size="23" fill="#000">
<text x="504" y="54" text-anchor="end">1.5</text>
<text x="504" y="139.5" text-anchor="end">1.0</text>
<text x="504" y="224.6" text-anchor="end">0.5</text>
<text x="504" y="310.1" text-anchor="end">0.0</text>
<text x="509" y="344" text-anchor="middle">0</text>
<text x="596.5" y="344" text-anchor="middle">6</text>
<text x="685" y="344" text-anchor="middle">12</text>
<text x="773" y="344" text-anchor="middle">18</text>
<text x="861" y="344" text-anchor="middle">24</text>
</g>
<g font-size="23" fill="#dc0e0e">
<text x="866" y="326.5">0</text>
<text x="866" y="272.0">5</text>
<text x="866" y="217.5">10</text>
<text x="866" y="163.0">15</text>
<text x="866" y="108.5">20</text>
<text x="866" y="54.0">25</text>
</g>
<text x="685" y="376.2" font-size="24.5" text-anchor="middle" fill="#000">Time (h)</text>
<text transform="translate(454,317.5) rotate(-90)" font-size="23.6" fill="#000">NO concentration (<tspan font-family="'Liberation Serif', serif">μ</tspan>M)</text>
<text transform="translate(915.2,323.2) rotate(-90)" font-size="23.6" fill="#dc0e0e">NO<tspan font-size="14.5" dy="8.5">2</tspan><tspan font-size="13" dy="-21.5" dx="-8">-</tspan><tspan dy="13" dx="1.5"> concentration (</tspan><tspan font-family="'Liberation Serif', serif">μ</tspan>M)</text>
<text x="602.6" y="110.3" font-size="20.8" fill="#000">NO sensor</text>
<text x="783.2" y="124.3" font-size="20.4" fill="#dc0e0e">Griess</text>
<text x="783.2" y="149" font-size="20.6" fill="#dc0e0e">method</text>
<text x="519.7" y="213.7" font-size="20.8" fill="#1c1cd8">L-Arg/IL-1β</text>
<polygon points="557.8,230.7 580.4,258.7 574.3,259.7 590.9,267.3 587.1,249.5 584.7,255.2 562.2,227.1" fill="#0000ff"/>
</g>
<g id="chart3">
<clipPath id="c3"><rect x="1055" y="43" width="370" height="274.5"/></clipPath>
<g clip-path="url(#c3)">
<polyline points="1056.5,115.6 1148.4,164.1 1240.3,162.0 1332.2,180.8 1424.1,178.1" fill="none" stroke="#0808f0" stroke-width="2.8"/>
<rect x="1049.9" y="108.9" width="13.2" height="13.4" fill="#0808f0"/>
<rect x="1141.8" y="157.4" width="13.2" height="13.4" fill="#0808f0"/>
<rect x="1233.7" y="155.3" width="13.2" height="13.4" fill="#0808f0"/>
<rect x="1325.6" y="174.2" width="13.2" height="13.4" fill="#0808f0"/>
<rect x="1417.5" y="171.4" width="13.2" height="13.4" fill="#0808f0"/>
<polyline points="1056.5,292.4 1148.4,295.0 1240.3,285.9 1332.2,296.7 1424.1,295.0" fill="none" stroke="#000" stroke-width="2.8"/>
<rect x="1049.9" y="285.7" width="13.2" height="13.4" fill="#000"/>
<rect x="1141.8" y="288.3" width="13.2" height="13.4" fill="#000"/>
<rect x="1233.7" y="279.2" width="13.2" height="13.4" fill="#000"/>
<rect x="1325.6" y="290.0" width="13.2" height="13.4" fill="#000"/>
<rect x="1417.5" y="288.3" width="13.2" height="13.4" fill="#000"/>
<polyline points="1056.5,295.0 1148.4,295.4 1240.3,289.6 1332.2,293.4 1424.1,305.7" fill="none" stroke="#fb0404" stroke-width="2.8"/>
<rect x="1049.9" y="288.3" width="13.2" height="13.4" fill="#fb0404"/>
<rect x="1141.8" y="288.7" width="13.2" height="13.4" fill="#fb0404"/>
<rect x="1233.7" y="282.9" width="13.2" height="13.4" fill="#fb0404"/>
<rect x="1325.6" y="286.7" width="13.2" height="13.4" fill="#fb0404"/>
<rect x="1417.5" y="299.0" width="13.2" height="13.4" fill="#fb0404"/>
</g>
<rect x="1056" y="44" width="368" height="272.5" fill="none" stroke="#000" stroke-width="2.2"/>
<rect x="1057" y="247.9" width="4" height="2" fill="#000"/>
<rect x="1057" y="179.8" width="4" height="2" fill="#000"/>
<rect x="1057" y="111.6" width="4" height="2" fill="#000"/>
<rect x="1147.4" y="312" width="2" height="4" fill="#000"/>
<rect x="1239.3" y="312" width="2" height="4" fill="#000"/>
<rect x="1331.2" y="312" width="2" height="4" fill="#000"/>
<g font-size="23" fill="#000">
<text x="1051" y="323.5" text-anchor="end">0</text>
<text x="1051" y="256.6" text-anchor="end">5</text>
<text x="1051" y="188.4" text-anchor="end">10</text>
<text x="1051" y="120.3" text-anchor="end">15</text>
<text x="1051" y="51.0" text-anchor="end">20</text>
<text x="1056.5" y="340.6" text-anchor="middle">1</text>
<text x="1148.4" y="340.6" text-anchor="middle">2</text>
<text x="1240.3" y="340.6" text-anchor="middle">3</text>
<text x="1332.2" y="340.6" text-anchor="middle">4</text>
<text x="1424.1" y="340.6" text-anchor="middle">5</text>
</g>
<text x="1240.5" y="370.6" font-size="23" letter-spacing="0.55" text-anchor="middle" fill="#000">Time (Days)</text>
<text transform="translate(1008.5,322.8) rotate(-90)" font-size="23.4" fill="#000">NO concentration <tspan font-size="34" dy="-0.6" stroke-width="0">(</tspan><tspan dy="3.1" font-size="22.5" font-family="'Liberation Serif', serif">μ</tspan><tspan font-size="25.5">M</tspan><tspan font-size="34" dy="-3.1" stroke-width="0">)</tspan></text>
<text x="1275.3" y="145.5" font-size="20.8" fill="#1c1cd8">IL-1β group</text>
<text x="1083.4" y="268.5" font-size="20.7" fill="#000">Control group</text>
<text x="1259.6" y="274.4" font-size="20.85" fill="#dc0e0e">Penicillin group</text>
</g>
</svg>
</body></html>
